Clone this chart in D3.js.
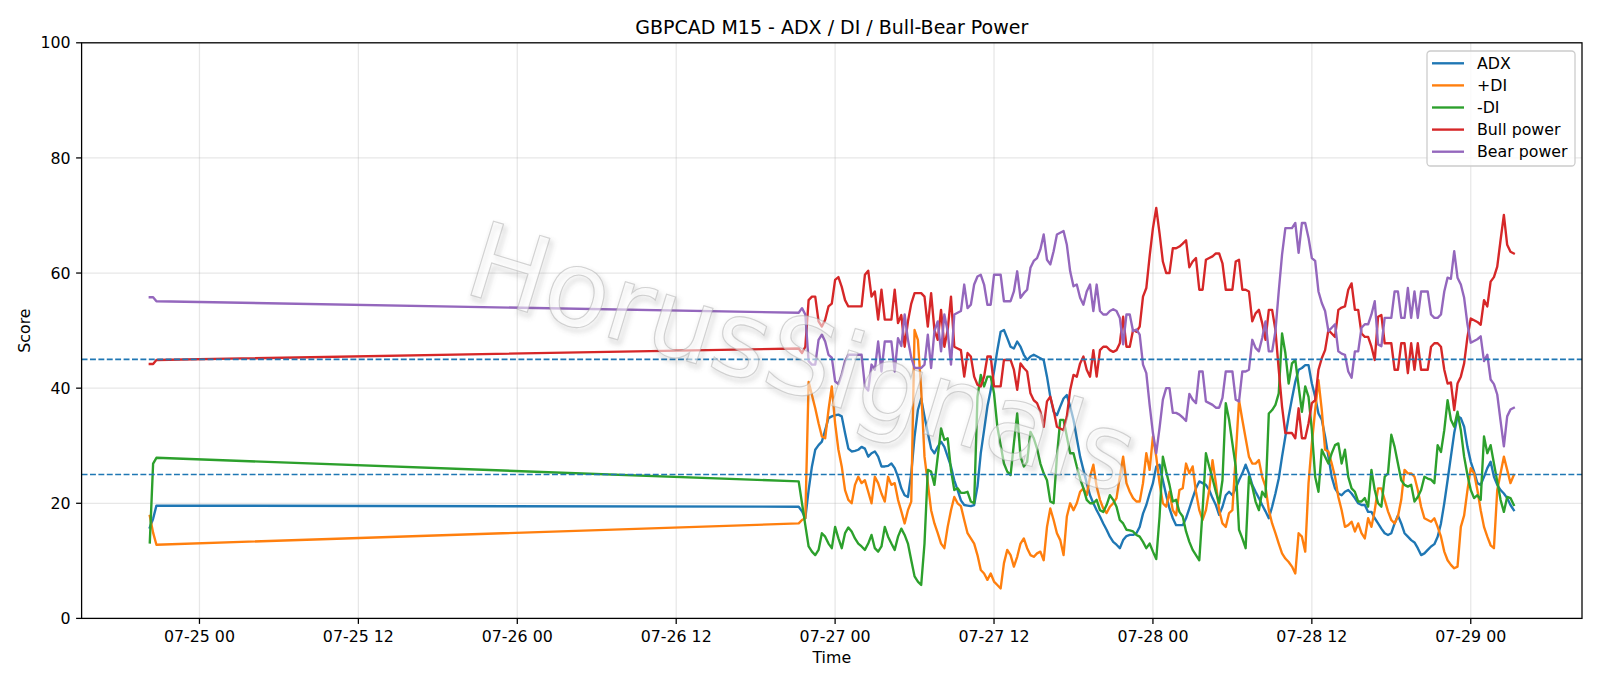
<!DOCTYPE html>
<html><head><meta charset="utf-8">
<script src="https://cdn.jsdelivr.net/npm/d3@7"></script>
<style>body{margin:0;background:#fff} svg{display:block} text{font-family:"DejaVu Sans",sans-serif}</style>
</head><body><svg id="chart" width="1600" height="686"></svg>
<script>
const chartTitle = "GBPCAD M15 - ADX / DI / Bull-Bear Power";
const xLabel = "Time", yLabel = "Score";
const watermark = "HorusSignals";
const segmentStarts = ["2026-07-24T20:15:00Z", "2026-07-26T21:15:00Z"];
const segmentCounts = [3, 217];
const seriesNames = ["ADX", "+DI", "-DI", "Bull power", "Bear power"];
const seriesColors = ["#1f77b4", "#ff7f0e", "#2ca02c", "#d62728", "#9467bd"];
const refLevels = [45, 25];
const yTicks = [0, 20, 40, 60, 80, 100];

const adx = [15.8, 17.3, 19.6,
19.4, 18.6, 17.4, 22.3, 26.4, 29.3, 30.1, 30.7, 32.7, 34.8,
35.1, 35.3, 35.4, 35.1, 32.2, 29.5, 29.0, 29.1, 29.3, 29.8,
29.5, 28.1, 28.7, 29.0, 28.1, 26.4, 26.4, 26.5, 26.9, 26.1,
24.6, 22.6, 21.4, 21.1, 25.2, 31.6, 36.2, 38.2, 35.1, 32.2,
29.5, 28.7, 29.8, 30.7, 29.8, 28.1, 26.4, 24.0, 22.3, 20.5,
19.7, 19.6, 19.5, 19.7, 22.9, 28.7, 32.7, 36.8, 39.7, 42.9,
46.6, 49.8, 50.1, 48.7, 47.2, 46.9, 48.1, 47.2, 45.8, 44.9,
45.5, 45.8, 45.5, 45.2, 44.9, 42.0, 38.5, 35.9, 35.3, 36.8,
38.2, 38.8, 36.8, 34.5, 31.3, 28.1, 25.8, 23.5, 21.4, 20.0,
18.8, 17.7, 16.5, 15.4, 14.2, 13.3, 12.8, 12.2, 13.6, 14.3,
14.5, 14.5, 14.8, 15.9, 18.2, 19.7, 21.7, 23.5, 26.4, 26.7,
24.0, 21.4, 19.1, 17.4, 16.2, 16.2, 16.2, 17.4, 19.1, 20.9,
22.6, 23.8, 23.5, 23.2, 22.3, 20.9, 19.7, 18.0, 19.4, 21.4,
22.0, 21.4, 22.6, 24.0, 25.2, 26.7, 25.2, 23.2, 22.0, 20.9,
19.7, 18.6, 17.4, 19.4, 21.7, 24.3, 28.1, 31.6, 35.1, 38.2,
41.1, 43.2, 43.5, 44.0, 44.0, 40.8, 38.5, 35.6, 34.5, 31.6,
28.1, 24.6, 22.6, 21.7, 21.4, 22.0, 22.3, 21.7, 20.9, 20.0,
19.7, 19.7, 18.5, 18.5, 17.4, 16.5, 15.6, 14.8, 14.5, 14.8,
16.5, 17.9, 16.5, 14.8, 14.2, 13.6, 13.2, 12.2, 11.0, 11.3,
11.9, 12.5, 12.9, 14.2, 16.5, 20.0, 24.0, 28.1, 32.2, 35.1,
34.8, 33.3, 29.8, 27.2, 25.5, 23.5, 23.2, 24.6, 26.1, 27.2,
24.6, 23.2, 22.3, 21.7, 20.9, 19.7, 18.8];

const plusDI = [17.8, 14.9, 12.8,
16.5, 17.1, 17.4, 41.1, 38.8, 36.5, 33.9, 31.6, 31.3, 36.2,
40.3, 33.9, 29.3, 26.4, 22.3, 20.6, 20.0, 23.2, 24.6, 23.5,
24.0, 22.0, 20.0, 24.6, 23.5, 21.7, 20.3, 24.6, 23.2, 23.5,
20.6, 18.6, 16.5, 18.8, 20.3, 50.1, 48.4, 39.7, 28.1, 23.5,
18.8, 16.5, 14.8, 13.0, 12.2, 15.9, 18.8, 21.1, 20.0, 19.5,
17.1, 14.8, 13.9, 13.0, 11.0, 8.4, 7.8, 6.7, 7.8, 6.4,
5.8, 5.2, 9.6, 11.9, 11.0, 9.0, 10.7, 13.0, 13.9, 12.2,
11.0, 10.7, 11.3, 11.6, 10.1, 15.9, 19.1, 17.1, 14.8, 13.6,
11.0, 17.7, 20.0, 18.8, 20.0, 22.0, 22.6, 21.4, 24.6, 26.7,
22.9, 20.6, 19.1, 18.3, 19.4, 20.0, 20.9, 24.6, 28.1, 23.5,
22.0, 20.9, 20.3, 20.3, 23.5, 28.7, 25.8, 31.6, 28.1, 23.5,
20.0, 19.4, 22.0, 18.8, 17.9, 22.3, 22.6, 26.9, 25.2, 26.4,
22.0, 18.8, 17.1, 18.8, 22.3, 27.5, 23.5, 18.8, 16.5, 15.9,
18.3, 18.8, 28.1, 37.9, 34.5, 31.3, 28.1, 26.9, 26.9, 27.5,
24.6, 22.9, 18.8, 16.5, 14.8, 13.0, 11.3, 10.4, 9.8, 9.0,
7.8, 14.8, 14.2, 11.6, 23.5, 30.4, 36.2, 41.4, 36.2, 29.3,
29.0, 26.9, 24.6, 21.1, 18.8, 15.9, 16.2, 16.8, 15.1, 16.5,
14.8, 13.9, 17.4, 15.9, 18.8, 22.6, 22.6, 20.6, 18.6, 17.1,
16.5, 17.7, 20.6, 25.8, 25.2, 25.2, 24.6, 22.3, 19.4, 17.4,
17.1, 16.8, 17.4, 15.9, 14.2, 11.6, 10.1, 9.3, 8.7, 9.0,
15.9, 17.9, 22.3, 26.1, 25.2, 22.3, 18.8, 15.9, 14.2, 12.7,
12.2, 22.3, 25.2, 28.1, 25.8, 23.5, 24.9];

const minusDI = [13.2, 26.9, 27.9,
23.8, 20.0, 16.2, 12.5, 11.6, 11.0, 11.9, 14.8, 14.2, 13.0,
12.2, 15.9, 13.9, 12.2, 14.8, 15.8, 15.1, 13.9, 13.0, 12.5,
11.9, 13.0, 14.5, 12.2, 11.6, 12.5, 15.9, 14.2, 13.0, 11.9,
14.2, 15.6, 14.5, 13.0, 10.1, 7.3, 6.4, 5.8, 13.0, 25.8,
25.5, 23.2, 28.1, 33.0, 31.0, 31.3, 25.8, 22.3, 22.6, 21.8,
21.8, 22.0, 20.3, 20.0, 38.5, 42.3, 40.3, 42.0, 42.0, 39.1,
33.3, 30.1, 26.9, 25.5, 24.9, 30.4, 35.6, 28.1, 26.4, 27.2,
32.4, 31.3, 29.5, 26.9, 25.2, 24.0, 20.3, 20.0, 28.1, 34.5,
34.5, 31.6, 28.7, 28.7, 26.4, 24.3, 22.6, 20.6, 20.0, 20.0,
20.6, 18.8, 18.5, 19.7, 21.4, 20.6, 19.4, 17.1, 16.5, 15.4,
15.3, 15.1, 14.5, 14.2, 13.3, 12.2, 13.0, 11.6, 10.3, 17.7,
28.1, 25.5, 23.2, 20.3, 20.6, 18.5, 17.7, 15.1, 13.3, 11.9,
11.0, 10.1, 18.8, 28.7, 26.4, 24.3, 22.0, 20.0, 24.0, 37.4,
34.5, 30.4, 26.4, 15.4, 13.9, 12.2, 24.6, 22.9, 20.3, 18.8,
22.0, 21.1, 35.6, 36.2, 37.1, 39.1, 49.5, 46.1, 40.8, 44.3,
44.9, 40.3, 35.9, 40.3, 38.5, 32.7, 24.6, 22.0, 29.3, 28.1,
26.9, 28.7, 30.1, 30.4, 26.9, 29.3, 24.6, 22.6, 22.0, 20.3,
20.3, 20.9, 19.4, 25.8, 22.3, 20.0, 19.4, 24.6, 25.2, 31.9,
29.8, 26.9, 24.0, 23.2, 22.9, 23.2, 20.3, 21.1, 22.3, 24.6,
24.3, 24.1, 23.5, 30.1, 28.9, 32.7, 37.9, 34.5, 33.3, 35.9,
32.7, 28.1, 24.9, 22.3, 20.9, 21.4, 20.6, 31.6, 28.7, 30.1,
26.9, 23.8, 20.6, 18.5, 21.1, 20.9, 19.7];

const bullPower = [44.2, 44.2, 44.9,
46.9, 46.1, 47.2, 55.3, 55.9, 55.9, 51.6, 50.7, 51.9, 54.2,
54.7, 58.8, 59.3, 57.6, 55.3, 54.2, 54.2, 54.2, 54.2, 54.2,
59.7, 60.4, 55.9, 56.8, 51.9, 57.1, 51.9, 51.9, 51.9, 57.1,
51.3, 52.7, 47.2, 51.6, 54.7, 56.5, 56.5, 56.5, 55.9, 50.7,
56.5, 50.1, 48.4, 53.6, 47.2, 50.1, 55.9, 47.2, 46.9, 46.6,
42.0, 46.1, 45.5, 42.0, 40.6, 40.3, 42.0, 45.5, 45.5, 40.3,
40.3, 40.3, 44.9, 44.9, 44.9, 43.2, 39.7, 44.3, 43.5, 42.9,
39.1, 37.9, 37.4, 35.9, 33.3, 37.7, 38.5, 36.2, 33.3, 33.0,
32.7, 35.1, 39.7, 42.3, 42.0, 44.3, 45.5, 43.2, 42.0, 46.6,
42.0, 46.6, 47.2, 47.2, 46.6, 46.3, 46.6, 47.8, 52.4, 47.2,
47.2, 50.1, 49.8, 50.7, 55.9, 57.4, 62.9, 67.8, 71.3, 66.9,
62.0, 60.0, 60.0, 64.3, 64.3, 64.6, 65.1, 65.7, 61.0, 62.0,
62.6, 57.1, 57.1, 62.3, 62.6, 62.9, 63.4, 63.4, 61.7, 57.1,
57.1, 57.1, 62.0, 62.3, 57.1, 57.1, 56.8, 51.6, 53.0, 53.6,
51.3, 48.4, 53.6, 53.6, 50.1, 43.2, 36.8, 32.2, 32.2, 32.2,
31.3, 36.5, 31.3, 31.3, 33.9, 37.4, 37.9, 43.2, 45.2, 46.6,
50.1, 49.5, 48.9, 53.6, 54.0, 54.2, 57.1, 58.2, 53.6, 53.6,
49.5, 48.9, 48.9, 47.2, 44.9, 52.4, 52.7, 47.8, 47.8, 47.8,
43.2, 43.2, 47.8, 47.8, 42.6, 47.8, 43.2, 47.8, 43.2, 43.2,
43.2, 47.2, 47.8, 47.8, 47.2, 43.2, 40.8, 41.0, 36.2, 40.8,
42.0, 44.3, 48.9, 52.1, 51.8, 51.5, 51.0, 55.3, 54.2, 58.5,
59.3, 61.1, 65.7, 70.1, 64.9, 63.7, 63.4];

const bearPower = [55.8, 55.8, 55.1,
53.1, 53.9, 52.8, 44.7, 44.1, 44.1, 48.4, 49.3, 48.1, 45.8,
45.3, 41.2, 40.7, 42.4, 44.7, 45.8, 45.8, 45.8, 45.8, 45.8,
40.3, 39.6, 44.1, 43.2, 48.1, 42.9, 48.1, 48.1, 48.1, 42.9,
48.7, 47.3, 52.8, 48.4, 45.3, 43.5, 43.5, 43.5, 44.1, 49.3,
43.5, 49.9, 51.6, 46.4, 52.8, 49.9, 44.1, 52.8, 53.1, 53.4,
58.0, 53.9, 54.5, 58.0, 59.4, 59.7, 58.0, 54.5, 54.5, 59.7,
59.7, 59.7, 55.1, 55.1, 55.1, 56.8, 60.3, 55.7, 56.5, 57.1,
60.9, 62.1, 62.6, 64.1, 66.7, 62.3, 61.5, 63.8, 66.7, 67.0,
67.3, 64.9, 60.3, 57.7, 58.0, 55.7, 54.5, 56.8, 58.0, 53.4,
58.0, 53.4, 52.8, 52.8, 53.4, 53.7, 53.4, 52.2, 47.6, 52.8,
52.8, 49.9, 50.2, 49.3, 44.1, 42.6, 37.1, 32.2, 28.7, 33.1,
38.0, 40.0, 40.0, 35.7, 35.7, 35.4, 34.9, 34.3, 39.0, 38.0,
37.4, 42.9, 42.9, 37.7, 37.4, 37.1, 36.6, 36.6, 38.3, 42.9,
42.9, 42.9, 38.0, 37.7, 42.9, 42.9, 43.2, 48.4, 47.0, 46.4,
48.7, 51.6, 46.4, 46.4, 49.9, 56.8, 63.2, 67.8, 67.8, 67.8,
68.7, 63.5, 68.7, 68.7, 66.1, 62.6, 62.1, 56.8, 54.8, 53.4,
49.9, 50.5, 51.1, 46.4, 46.0, 45.8, 42.9, 41.8, 46.4, 46.4,
50.5, 51.1, 51.1, 52.8, 55.1, 47.6, 47.3, 52.2, 52.2, 52.2,
56.8, 56.8, 52.2, 52.2, 57.4, 52.2, 56.8, 52.2, 56.8, 56.8,
56.8, 52.8, 52.2, 52.2, 52.8, 56.8, 59.2, 59.0, 63.8, 59.2,
58.0, 55.7, 51.1, 47.9, 48.2, 48.5, 49.0, 44.7, 45.8, 41.5,
40.7, 38.9, 34.3, 29.9, 35.1, 36.3, 36.6];

const seriesValues = [adx, plusDI, minusDI, bullPower, bearPower];

// timestamps of the 15-minute bars
const times = [];
segmentStarts.forEach((s, k) => {
  const t0 = new Date(s);
  for (let j = 0; j < segmentCounts[k]; j++) times.push(d3.utcMinute.offset(t0, 15 * j));
});

const M = {left: 81.6, right: 1582, top: 42.8, bottom: 618.4};
const svg = d3.select("#chart");
const FS = 15.8, TICK = 5.5, LW = 2.37;

const ext = d3.extent(times);
const span = ext[1] - ext[0];
const x = d3.scaleUtc()
  .domain([new Date(+ext[0] - 0.05 * span), new Date(+ext[1] + 0.05 * span)])
  .range([M.left, M.right]);
const y = d3.scaleLinear().domain([0, 100]).range([M.bottom, M.top]);
const xTicks = x.ticks(d3.utcHour.every(12));
const fmt = d3.utcFormat("%m-%d %H");

// grid
const grid = svg.append("g");
grid.selectAll(".gx").data(xTicks).join("line")
  .attr("x1", d => x(d)).attr("x2", d => x(d)).attr("y1", M.top).attr("y2", M.bottom)
  .attr("stroke", "#b0b0b0").attr("stroke-opacity", 0.3).attr("stroke-width", 1.27);
grid.selectAll(".gy").data(yTicks).join("line")
  .attr("x1", M.left).attr("x2", M.right).attr("y1", d => y(d)).attr("y2", d => y(d))
  .attr("stroke", "#b0b0b0").attr("stroke-opacity", 0.3).attr("stroke-width", 1.27);

// series lines
const line = d3.line().x((d, i) => x(times[i])).y(d => y(d));
seriesValues.forEach((vals, k) => {
  svg.append("path").datum(vals).attr("d", line)
    .attr("fill", "none").attr("stroke", seriesColors[k])
    .attr("stroke-width", LW).attr("stroke-linejoin", "round").attr("stroke-linecap", "square");
});

// reference dashed lines
svg.selectAll(".ref").data(refLevels).join("line")
  .attr("x1", M.left).attr("x2", M.right).attr("y1", d => y(d)).attr("y2", d => y(d))
  .attr("stroke", "#1f77b4").attr("stroke-width", 1.58).attr("stroke-dasharray", "5.9,2.5");

// watermark
const defs = svg.append("defs");
const f = defs.append("filter").attr("id", "wmShadow").attr("x", "-10%").attr("y", "-10%").attr("width", "120%").attr("height", "120%");
f.append("feGaussianBlur").attr("stdDeviation", 2.4);
const wm = svg.append("g").attr("transform", "translate(461,292) rotate(17)");
wm.append("text").text(watermark).attr("x", 3).attr("y", 3)
  .attr("font-size", 106).attr("fill", "none").attr("stroke", "#555").attr("stroke-width", 2.5)
  .attr("stroke-opacity", 0.28).attr("filter", "url(#wmShadow)");
wm.append("text").text(watermark)
  .attr("font-size", 106).attr("fill", "#ffffff").attr("fill-opacity", 0.55)
  .attr("stroke", "#aaaaaa").attr("stroke-width", 1.1).attr("stroke-opacity", 0.5);

// spines
svg.append("rect").attr("x", M.left).attr("y", M.top)
  .attr("width", M.right - M.left).attr("height", M.bottom - M.top)
  .attr("fill", "none").attr("stroke", "#000").attr("stroke-width", 1.27);

// x ticks
const xt = svg.append("g");
xt.selectAll("line").data(xTicks).join("line")
  .attr("x1", d => x(d)).attr("x2", d => x(d)).attr("y1", M.bottom).attr("y2", M.bottom + TICK)
  .attr("stroke", "#000").attr("stroke-width", 1.27);
xt.selectAll("text").data(xTicks).join("text")
  .attr("x", d => x(d)).attr("y", 641.5).attr("text-anchor", "middle")
  .attr("font-size", FS).attr("fill", "#000").text(d => fmt(d));

// y ticks
const yt = svg.append("g");
yt.selectAll("line").data(yTicks).join("line")
  .attr("x1", M.left - TICK).attr("x2", M.left).attr("y1", d => y(d)).attr("y2", d => y(d))
  .attr("stroke", "#000").attr("stroke-width", 1.27);
yt.selectAll("text").data(yTicks).join("text")
  .attr("x", M.left - 2 * TICK).attr("y", d => y(d)).attr("dy", "0.36em").attr("text-anchor", "end")
  .attr("font-size", FS).attr("fill", "#000").text(d => d);

// labels
svg.append("text").attr("x", (M.left + M.right) / 2).attr("y", 33.5).attr("text-anchor", "middle")
  .attr("font-size", 19).attr("fill", "#000").text(chartTitle);
svg.append("text").attr("x", (M.left + M.right) / 2).attr("y", 663).attr("text-anchor", "middle")
  .attr("font-size", FS).attr("fill", "#000").text(xLabel);
svg.append("text").attr("transform", `translate(30,${(M.top + M.bottom) / 2}) rotate(-90)`)
  .attr("text-anchor", "middle").attr("font-size", FS).attr("fill", "#000").text(yLabel);

// legend
const lg = svg.append("g");
lg.append("rect").attr("x", 1427).attr("y", 51).attr("width", 148).attr("height", 115)
  .attr("rx", 3.5).attr("fill", "#fff").attr("fill-opacity", 0.8).attr("stroke", "#cccccc").attr("stroke-width", 1.27);
seriesNames.forEach((n, k) => {
  const ly = 63.3 + k * 22.1;
  lg.append("line").attr("x1", 1432).attr("x2", 1464).attr("y1", ly).attr("y2", ly)
    .attr("stroke", seriesColors[k]).attr("stroke-width", LW);
  lg.append("text").attr("x", 1477).attr("y", ly).attr("dy", "0.36em")
    .attr("font-size", FS).attr("fill", "#000").text(n);
});
</script></body></html>
